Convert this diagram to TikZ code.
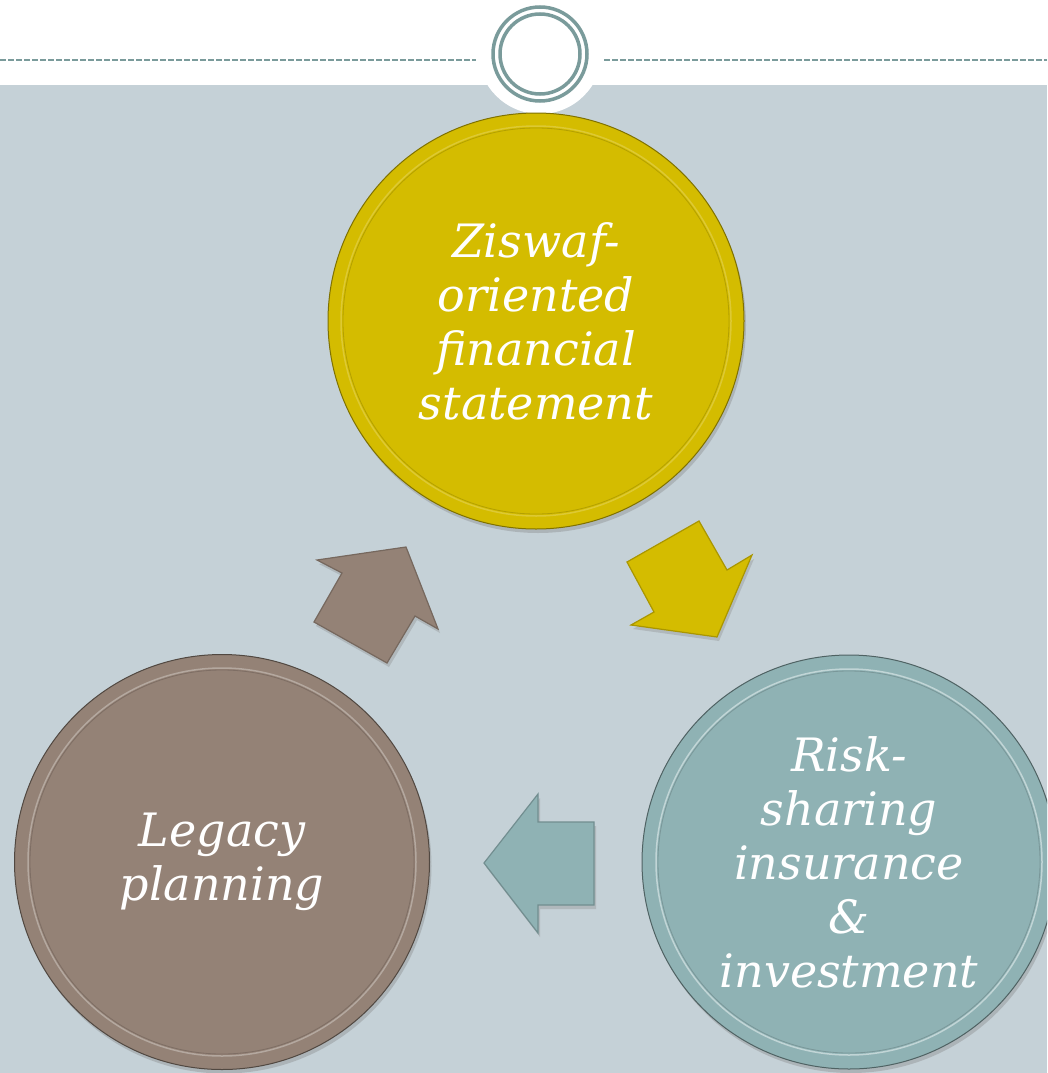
\documentclass[tikz,border=0pt]{standalone}
\usepackage{fontspec}
\setmainfont{DejaVu Serif}
\usetikzlibrary{shadows}
\definecolor{bg}{RGB}{197,209,215}
\definecolor{ringc}{RGB}{122,155,155}
\definecolor{yel}{RGB}{212,188,0}
\definecolor{brn}{RGB}{148,130,118}
\definecolor{tealc}{RGB}{143,178,180}
\tikzset{
  bigcirc/.style={circle, minimum size=#1, inner sep=0pt, align=center, text=white,
    font=\fontsize{46}{54}\selectfont\itshape,
    drop shadow={shadow xshift=2pt, shadow yshift=-4pt, opacity=0.35}},
  blockarrow/.style={line width=1.2pt, line join=miter,
    drop shadow={shadow xshift=2pt, shadow yshift=-4pt, opacity=0.3}},
  rimhi/.style={line width=1.5pt},
  dashline/.style={draw=ringc, line width=2pt, dash pattern=on 6pt off 2pt}
}
\begin{document}
\begin{tikzpicture}[x=1pt,y=-1pt]
\useasboundingbox (0,0) rectangle (1047,1073);
\clip (0,0) rectangle (1047,1073);
% background
\fill[white] (0,0) rectangle (1047,85);
\fill[bg] (0,85) rectangle (1047,1073);
\fill[white] (540,52) circle[radius=62pt];
% header
\draw[dashline] (0,60) -- (476,60);
\draw[dashline] (604,60) -- (1047,60);
\node[circle, draw=ringc, line width=3.5pt, minimum size=94pt, inner sep=0pt] (hdr) at (540,54) {};
\draw[ringc, line width=3.5pt] (hdr.center) circle[radius=40pt];
% circles
\node[bigcirc=416pt, fill=yel, draw=yel!60!black, line width=1pt] (Z) at (536,321)
  {Ziswaf-\\oriented\\financial\\statement};
\node[bigcirc=415pt, fill=brn, draw=brn!55!black, line width=1pt] (L) at (222,862)
  {Legacy\\planning};
\node[bigcirc=414pt, fill=tealc, draw=tealc!55!black, line width=1pt] (R) at (849,862)
  {Risk-\\sharing\\insurance\\\&\\investment};
% rim highlights
\draw[rimhi, yel!80!white] (Z.center) circle[radius=195pt];
\draw[rimhi, brn!70!white] (L.center) circle[radius=194pt];
\draw[rimhi, tealc!55!white] (R.center) circle[radius=193pt];
\draw[line width=0.8pt, yel!85!black] (Z.center) circle[radius=193pt];
\draw[line width=0.8pt, brn!85!black] (L.center) circle[radius=192pt];
\draw[line width=0.8pt, tealc!85!black] (R.center) circle[radius=191pt];
% block arrows
\filldraw[blockarrow, fill=brn, draw=brn!80!black]
  (406,547) -- (317,560) -- (342,573) -- (314,622) -- (387,663) -- (415,616) -- (438,629) -- cycle;
\filldraw[blockarrow, fill=yel, draw=yel!80!black]
  (699,521) -- (627,562) -- (654,612) -- (631,625) -- (717,637) -- (752,555) -- (727,570) -- cycle;
\filldraw[blockarrow, fill=tealc, draw=tealc!80!black]
  (484,863) -- (538,794) -- (538,822) -- (594,822) -- (594,905) -- (538,905) -- (538,933) -- cycle;
\end{tikzpicture}
\end{document}
